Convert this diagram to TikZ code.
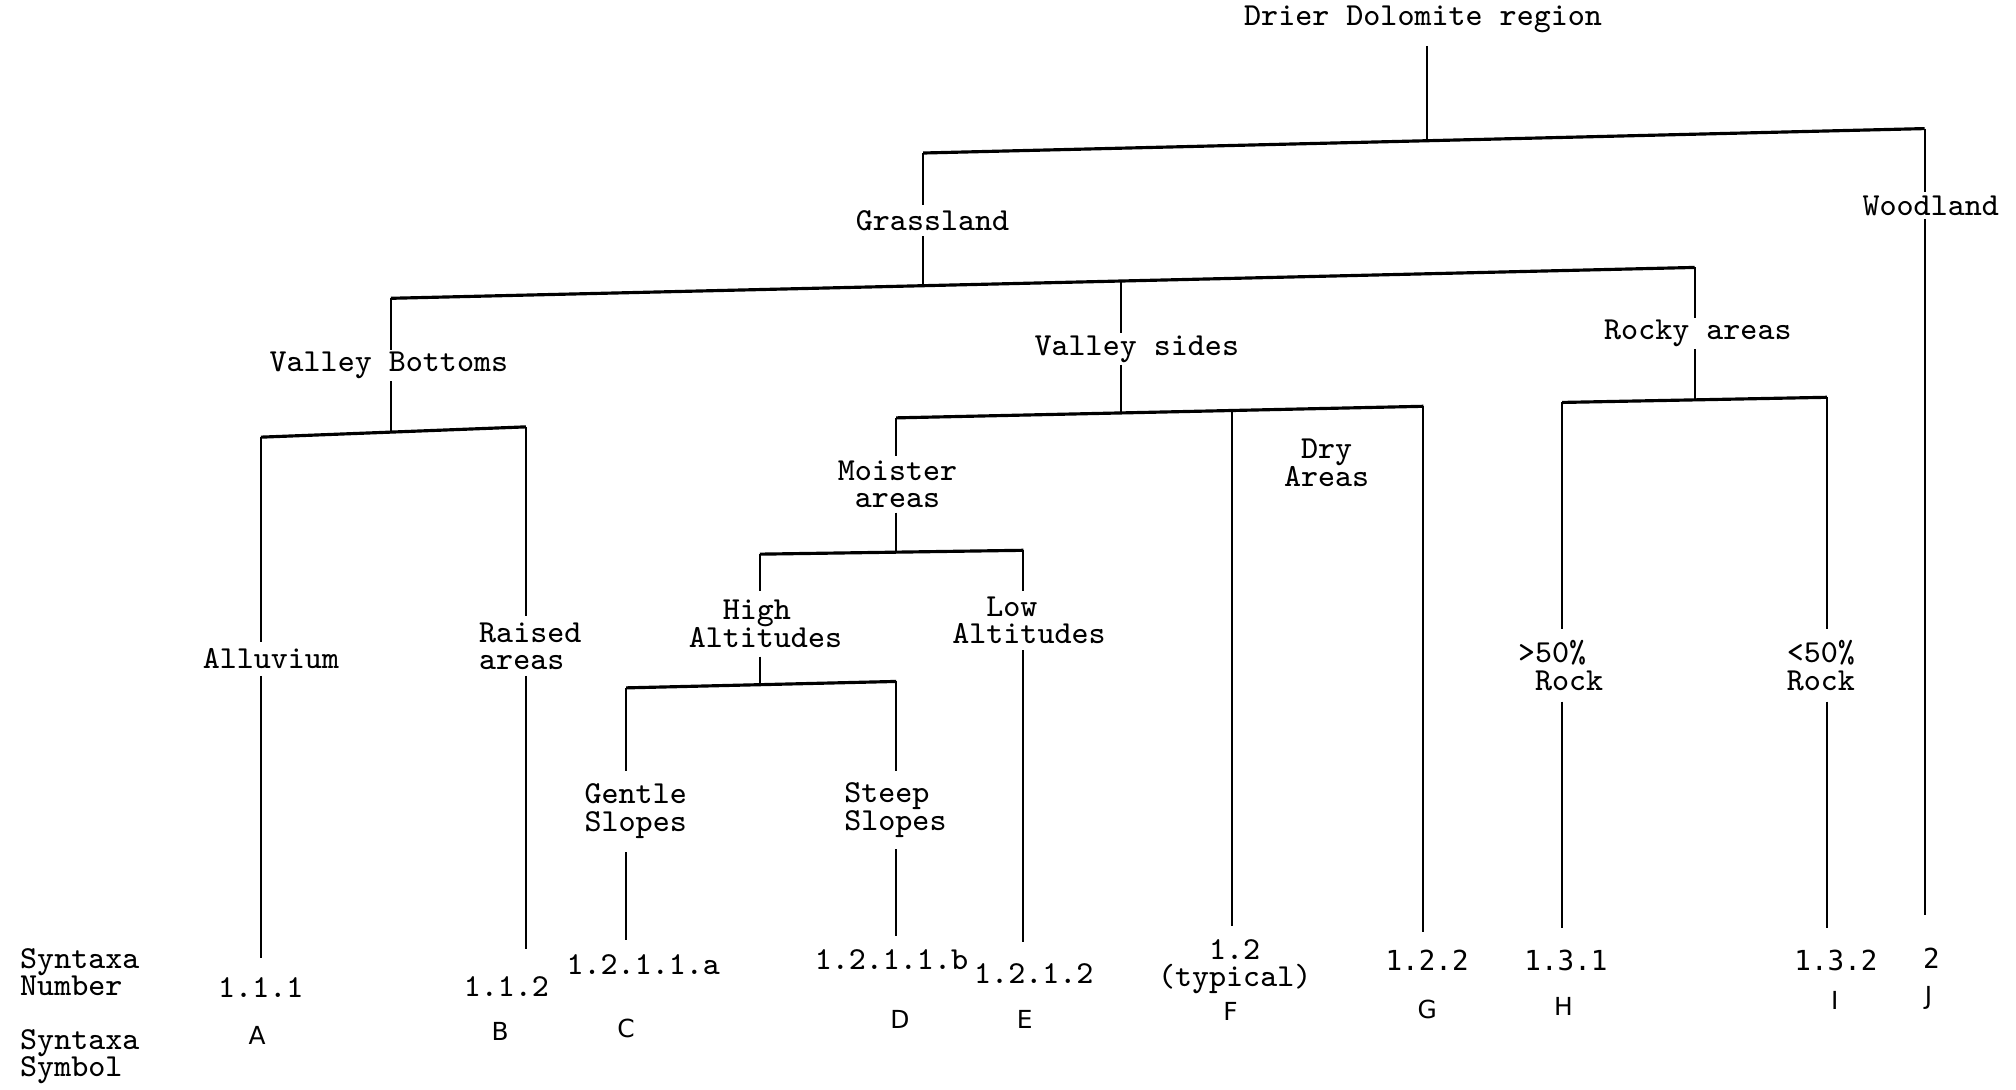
\documentclass[tikz,border=0pt]{standalone}
\usepackage{fontspec}
\newfontfamily\lgfont{DejaVu Sans Mono}
\newfontfamily\symfont{DejaVu Sans}
\begin{document}
\begin{tikzpicture}[x=0.1mm,y=-0.1mm,
  lbl/.style={font=\ttfamily\fontsize{7.1}{6.1}\selectfont, inner sep=0pt, anchor=west, align=center},
  num/.style={font=\ttfamily\fontsize{7.1}{6.1}\selectfont, inner sep=0pt, anchor=west, align=center},
  numb/.style={font=\lgfont\fontsize{6.1}{6.1}\selectfont, inner sep=0pt, anchor=west, align=center},
  sym/.style={font=\symfont\fontsize{5.5}{6}\selectfont, inner sep=0pt},
  stem/.style={line width=0.45pt},
  bar/.style={line width=0.7pt}]
\useasboundingbox (0,0) rectangle (1568,847);
% labels
\node[lbl, minimum height=4mm] (root) at (967,15) {Drier Dolomite region};
\node[lbl, minimum height=2.3mm] (grass) at (665,171.5) {Grassland};
\node[lbl, minimum height=2mm] (wood) at (1448,160) {Woodland};
\node[lbl, minimum height=2.3mm] (vbot) at (209,284.5) {Valley Bottoms};
\node[lbl, minimum height=2.3mm] (vsid) at (804,271.5) {Valley sides};
\node[lbl, minimum height=2.3mm] (rock) at (1247,259.5) {Rocky areas};
\node[lbl, minimum height=2.5mm] (allu) at (157,512.5) {Alluvium};
\node[lbl, align=left, minimum height=4.5mm] (raise) at (372,502.5) {Raised\\areas};
\node[lbl, minimum height=4.3mm] (moist) at (651,376.5) {Moister\\areas};
\node[lbl] (dry) at (998,360) {Dry\\Areas};
\node[lbl, align=left, minimum height=5mm] (high) at (535,485) {\hphantom{xx}High\\Altitudes};
\node[lbl, align=left, minimum height=4.5mm] (low) at (740,482.5) {\hphantom{xx}Low\\Altitudes};
\node[lbl, minimum height=6.2mm] (gent) at (454,631) {Gentle\\Slopes};
\node[lbl, align=left, minimum height=6mm] (steep) at (656,630) {Steep\\Slopes};
\node[lbl, align=left, minimum height=5.5mm] (gtr) at (1180,517.5) {>50\%\\\hphantom{x}Rock};
\node[lbl, minimum height=5.5mm] (ltr) at (1389,517.5) {<50\%\\Rock};
% bottom rows
\node[lbl, align=left] (synN) at (15,756) {Syntaxa\\Number};
\node[lbl, align=left] (synS) at (15,822) {Syntaxa\\Symbol};
\node[num] (nA) at (169,768) {1.1.1};
\node[num] (nB) at (360,767) {1.1.2};
\node[num] (nC) at (440,750) {1.2.1.1.a};
\node[num] (nD) at (633,746) {1.2.1.1.b};
\node[num] (nE) at (757,757) {1.2.1.2};
\node[num] (nF) at (900,752) {1.2\\(typical)};
\node[numb] (nG) at (1077,747) {1.2.2};
\node[numb] (nH) at (1185,747) {1.3.1};
\node[numb] (nI) at (1395,747) {1.3.2};
\node[numb] (nJ) at (1495,745) {2};
\node[sym] (sA) at (200,805) {A};
\node[sym] (sB) at (389,802) {B};
\node[sym] (sC) at (487,800) {C};
\node[sym] (sD) at (700,793) {D};
\node[sym] (sE) at (797,793) {E};
\node[sym] (sF) at (957,787) {F};
\node[sym] (sG) at (1110,785) {G};
\node[sym] (sH) at (1216,783) {H};
\node[sym] (sI) at (1427,778) {I};
\node[sym] (sJ) at (1500,776) {J};
% bar coordinates
\coordinate (tL) at (718,119); \coordinate (tR) at (1497,100); \coordinate (tJ) at (1110,109.4);
\coordinate (gL) at (304,232); \coordinate (gR) at (1318,208); \coordinate (gJ) at (718,222.2); \coordinate (gM) at (872,218.6);
\coordinate (vbL) at (203,340); \coordinate (vbR) at (409,332); \coordinate (vbJ) at (304,336.1);
\coordinate (vsL) at (697,325); \coordinate (vsR) at (1107,316); \coordinate (vsJ) at (872,321.2); \coordinate (vsM) at (958,319.3);
\coordinate (mL) at (591,431); \coordinate (mR) at (796,428); \coordinate (mJ) at (697,429.4);
\coordinate (hL) at (487,535); \coordinate (hR) at (697,530); \coordinate (hJ) at (591,532.5);
\coordinate (rL) at (1215,313); \coordinate (rR) at (1421,309); \coordinate (rJ) at (1318,311);
% end coordinates
\coordinate (eA) at (203,745); \coordinate (eB) at (409,738); \coordinate (eC) at (487,731);
\coordinate (eD) at (697,728); \coordinate (eE) at (796,733); \coordinate (eF) at (958,720);
\coordinate (eG) at (1107,725); \coordinate (eH) at (1215,722); \coordinate (eI) at (1421,722);
\coordinate (eJ) at (1497,712);
% bars
\draw[bar] (tL) -- (tR);
\draw[bar] (gL) -- (gR);
\draw[bar] (vbL) -- (vbR);
\draw[bar] (vsL) -- (vsR);
\draw[bar] (mL) -- (mR);
\draw[bar] (hL) -- (hR);
\draw[bar] (rL) -- (rR);
% stems
\draw[stem] (tJ |- root.south) -- (tJ);
\draw[stem] (tL) -- (tL |- grass.north);  \draw[stem] (tL |- grass.south) -- (gJ);
\draw[stem] (tR) -- (tR |- wood.north);   \draw[stem] (tR |- wood.south) -- (eJ);
\draw[stem] (gL) -- (gL |- vbot.north);   \draw[stem] (gL |- vbot.south) -- (vbJ);
\draw[stem] (gM) -- (gM |- vsid.north);   \draw[stem] (gM |- vsid.south) -- (vsJ);
\draw[stem] (gR) -- (gR |- rock.north);   \draw[stem] (gR |- rock.south) -- (rJ);
\draw[stem] (vbL) -- (vbL |- allu.north); \draw[stem] (vbL |- allu.south) -- (eA);
\draw[stem] (vbR) -- (vbR |- raise.north); \draw[stem] (vbR |- raise.south) -- (eB);
\draw[stem] (vsL) -- (vsL |- moist.north); \draw[stem] (vsL |- moist.south) -- (mJ);
\draw[stem] (vsM) -- (eF);
\draw[stem] (vsR) -- (eG);
\draw[stem] (mL) -- (mL |- high.north);   \draw[stem] (mL |- high.south) -- (hJ);
\draw[stem] (mR) -- (mR |- low.north);    \draw[stem] (mR |- low.south) -- (eE);
\draw[stem] (hL) -- (hL |- gent.north);   \draw[stem] (hL |- gent.south) -- (eC);
\draw[stem] (hR) -- (hR |- steep.north);  \draw[stem] (hR |- steep.south) -- (eD);
\draw[stem] (rL) -- (rL |- gtr.north);    \draw[stem] (rL |- gtr.south) -- (eH);
\draw[stem] (rR) -- (rR |- ltr.north);    \draw[stem] (rR |- ltr.south) -- (eI);
\end{tikzpicture}
\end{document}
